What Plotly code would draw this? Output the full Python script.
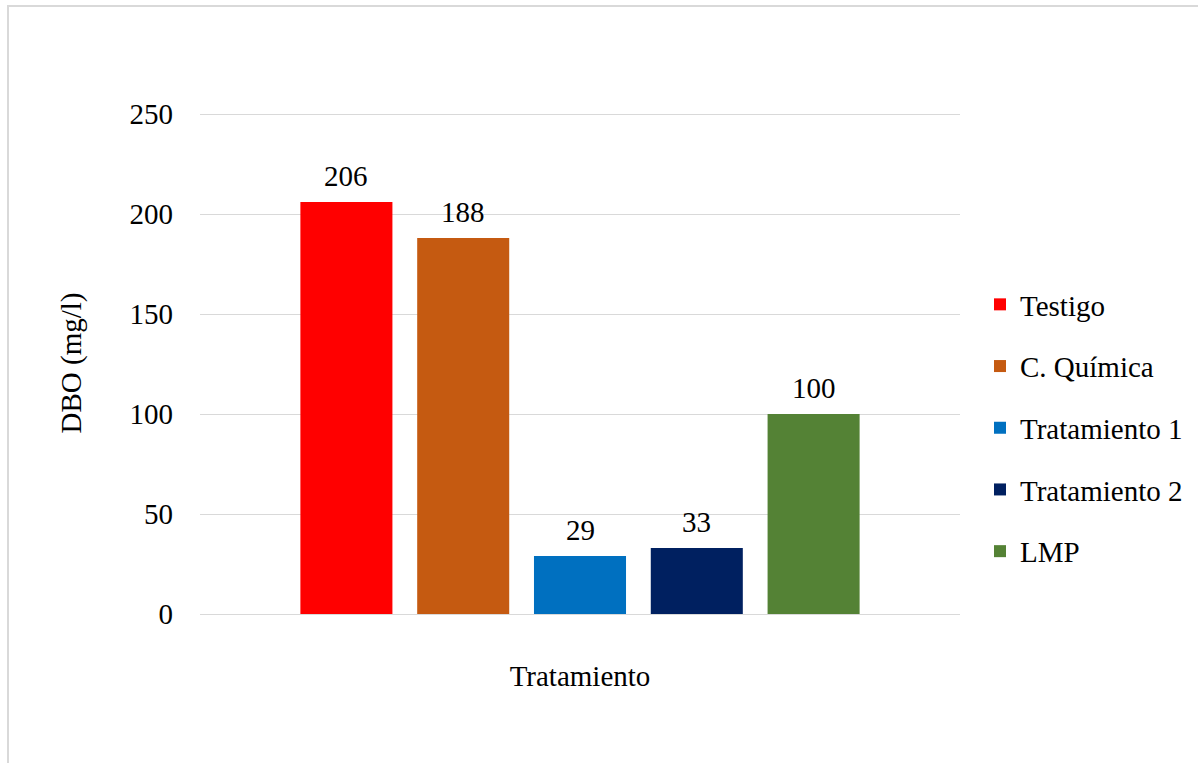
import plotly.graph_objects as go

# DBO results per treatment
series = ["Testigo", "C. Química", "Tratamiento 1", "Tratamiento 2", "LMP"]
dbo_values = [206, 188, 29, 33, 100]
colors = ["#FF0000", "#C55A11", "#0070C0", "#002060", "#548235"]
category = [""]
y_ticks = [0, 50, 100, 150, 200, 250]

FONT = "Liberation Serif"
SIZE = 29

W, H = 1198, 763
ML, MR, MT, MB = 200, 238, 112, 149
BARGAP, GROUPGAP = 0.2316, 0.212
plot_w = W - ML - MR
plot_h = H - MT - MB

fig = go.Figure()
for name, val, col in zip(series, dbo_values, colors):
    fig.add_trace(go.Bar(
        name=name,
        x=category,
        y=[val],
        marker=dict(color=col, line=dict(width=0)),
        legendgroup=name,
    ))

# value labels above each bar, centred on its slot within the group
slot_px = plot_w * (1 - BARGAP) / len(series)
annotations = []
for i, val in enumerate(dbo_values):
    annotations.append(dict(
        x=0, y=val, xref="x", yref="y",
        text=str(val), showarrow=False,
        xanchor="center", yanchor="bottom",
        xshift=(i - (len(series) - 1) / 2) * slot_px,
        yshift=8,
        font=dict(family=FONT, size=SIZE, color="#000000"),
    ))

fig.update_layout(
    barmode="group",
    bargap=BARGAP,
    bargroupgap=GROUPGAP,
    width=W,
    height=H,
    margin=dict(l=ML, r=MR, t=MT, b=MB, autoexpand=False),
    paper_bgcolor="white",
    plot_bgcolor="white",
    font=dict(family=FONT, size=SIZE, color="#000000"),
    showlegend=True,
    legend=dict(
        x=(980 - ML) / plot_w, y=(H - MB - 279) / plot_h, xanchor="left", yanchor="top",
        font=dict(family=FONT, size=SIZE, color="#000000"),
        tracegroupgap=21,
        itemwidth=30,
        bgcolor="rgba(0,0,0,0)",
    ),
    xaxis=dict(
        type="category",
        range=[-0.5, 0.5],
        showticklabels=False,
        showgrid=False,
        showline=False,
        title=dict(text="Tratamiento", font=dict(family=FONT, size=SIZE), standoff=51),
    ),
    yaxis=dict(
        range=[0, 251],
        tickvals=y_ticks,
        showgrid=True,
        gridcolor="#D9D9D9",
        gridwidth=1,
        zeroline=True,
        zerolinecolor="#D9D9D9",
        zerolinewidth=1,
        showline=False,
        ticks="",
        ticklabelstandoff=26,
        tickfont=dict(family=FONT, size=SIZE),
        title=dict(text="DBO (mg/l)", font=dict(family=FONT, size=SIZE), standoff=39),
    ),
    annotations=annotations,
    shapes=[dict(
        type="rect", xref="paper", yref="paper",
        x0=(8 - ML) / plot_w, x1=1.5,
        y0=-0.5, y1=1 + (MT - 6) / plot_h,
        line=dict(color="#D9D9D9", width=2),
        fillcolor="rgba(0,0,0,0)",
        layer="below",
    )],
)

fig.write_html("out.html")
